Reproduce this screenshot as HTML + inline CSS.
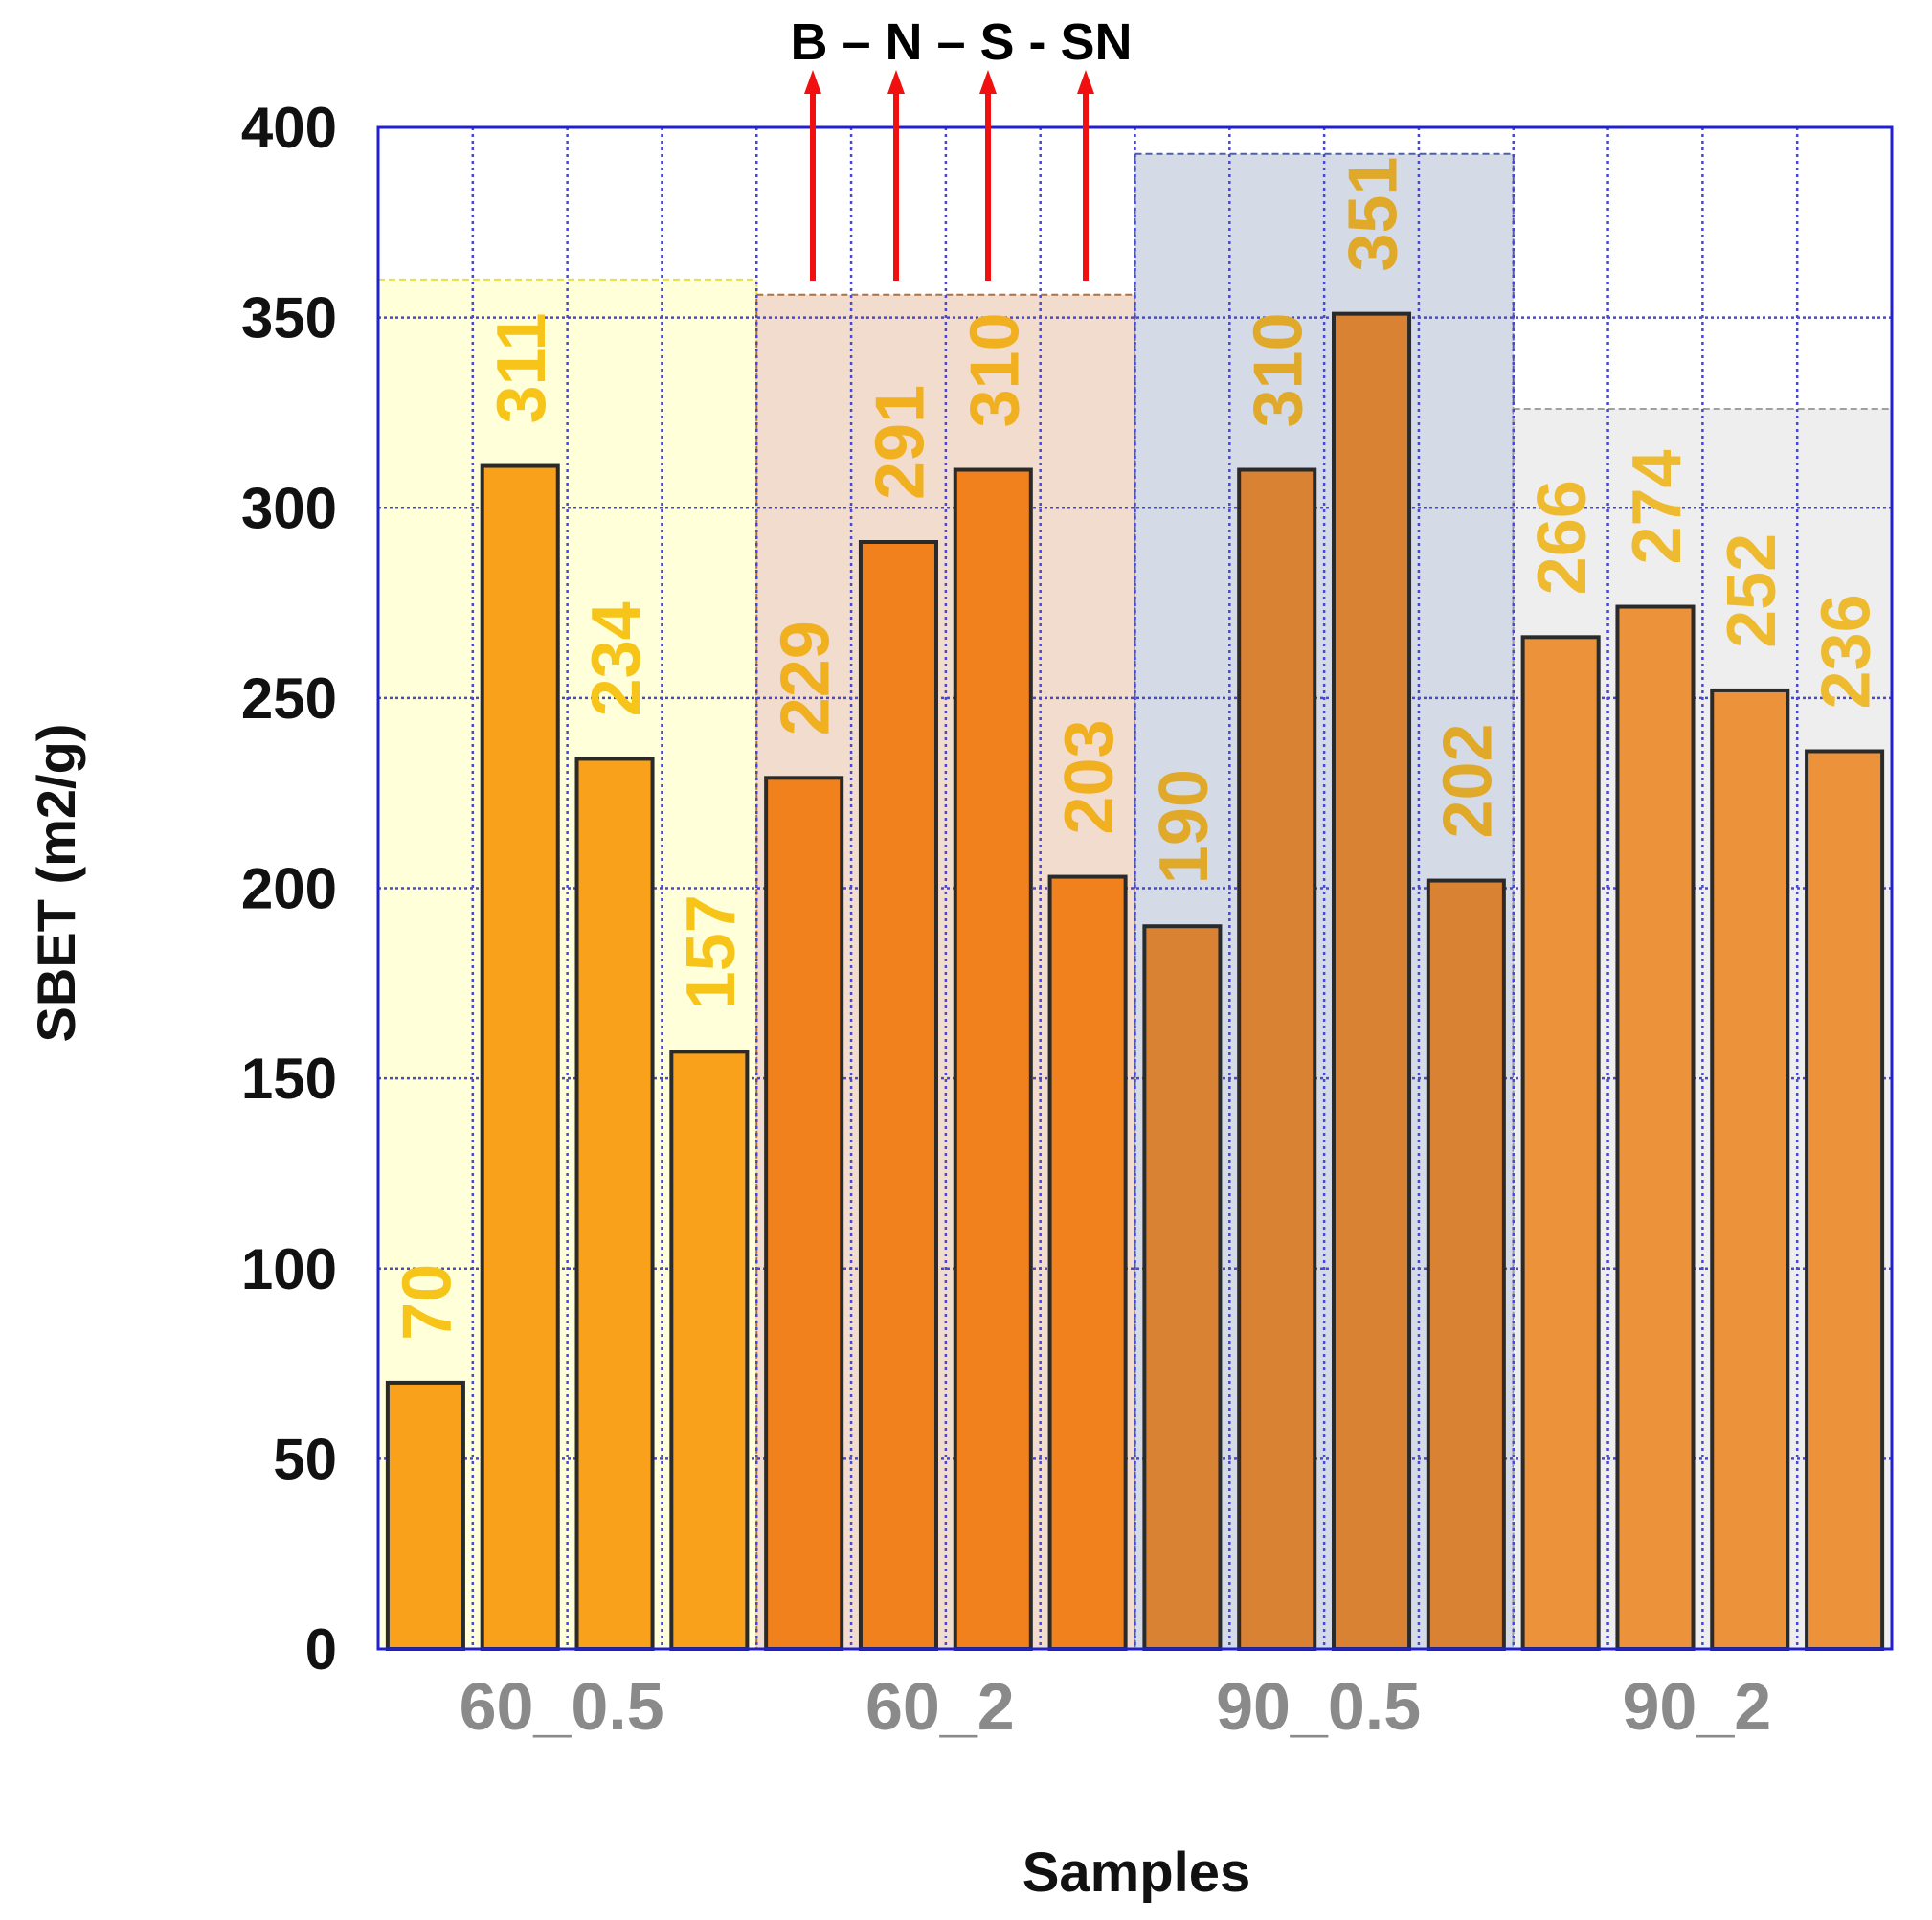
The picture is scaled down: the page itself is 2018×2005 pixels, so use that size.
<!DOCTYPE html>
<html><head><meta charset="utf-8"><style>
html,body{margin:0;padding:0;background:#fff;}
svg{display:block;font-family:"Liberation Sans",Arial,sans-serif;font-weight:bold;}
</style></head><body>
<svg id="chart" width="2018" height="2005" viewBox="0 0 2018 2005" xmlns="http://www.w3.org/2000/svg"></svg>
<script>
const groups = ["60_0.5","60_2","90_0.5","90_2"];
const values = [70,311,234,157, 229,291,310,203, 190,310,351,202, 266,274,252,236];
const groupHeights = [360,356,393,326];
const yTicks = [0,50,100,150,200,250,300,350,400];
const treatments = ["B","N","S","SN"];

const NS="http://www.w3.org/2000/svg";
const svg=document.getElementById('chart');
const L=395,R=1976,T=133,B=1722,YMAX=400;
const nBars=values.length, slot=(R-L)/nBars;
function y(v){return B-(v/YMAX)*(B-T);}
function x(i){return L+i*slot;}
function el(tag,attrs,parent){const e=document.createElementNS(NS,tag);for(const k in attrs)e.setAttribute(k,attrs[k]);(parent||svg).appendChild(e);return e;}

const bgFill=["#ffffd9","#f2dccd","#d4dbe6","#eeeeee"];
const bgStroke=["#e8e040","#b07040","#5060a0","#a0a0a0"];
const barFill=["#f9a11b","#f0811d","#d98233","#ec923a"];
const labelFill=["#f7c51a","#f0b020","#e0a92a","#eebb30"];
const per=nBars/groups.length;

groups.forEach((g,gi)=>{
  const r=el('rect',{x:x(gi*per),y:y(groupHeights[gi]),width:slot*per,height:B-y(groupHeights[gi]),fill:bgFill[gi],stroke:bgStroke[gi],'stroke-width':2,'stroke-dasharray':'7,4'});
  
  
});
for(let i=1;i<nBars;i++){
  const l=el('line',{x1:x(i),x2:x(i),y1:T,y2:B,stroke:'#4848d8','stroke-width':2.5,'stroke-dasharray':'3,4'});
  
  
}
yTicks.forEach(t=>{
  if(t>0&&t<YMAX){
    const l=el('line',{x1:L,x2:R,y1:y(t),y2:y(t),stroke:'#4848d8','stroke-width':2.5,'stroke-dasharray':'3,3'});
    
    
  }
  const tx=el('text',{x:352,y:y(t)+21,'text-anchor':'end','font-size':60,fill:'#111'});
  tx.textContent=t;
  
  
});
values.forEach((v,i)=>{
  const gi=Math.floor(i/per);
  const bw=slot*0.8;
  const bx=x(i)+(slot-bw)/2;
  const r=el('rect',{x:bx,y:y(v),width:bw,height:B-y(v),fill:barFill[gi],stroke:'#2a2a2a','stroke-width':4});
  
  
  const cx=x(i)+slot/2+26, cy=y(v)-44;
  const t=el('text',{x:cx,y:cy,'font-size':72,fill:labelFill[gi],transform:'rotate(-90 '+cx+' '+cy+')'});
  t.textContent=v;
  
  
});
const fr=el('rect',{x:L,y:T,width:R-L,height:B-T,fill:'none',stroke:'#2020d0','stroke-width':3});


groups.forEach((g,gi)=>{
  const t=el('text',{x:x(gi*per)+slot*2-6,y:1806,'text-anchor':'middle','font-size':70,fill:'#8a8a8a'});
  t.textContent=g;
  
  
});
const xt=el('text',{x:1187,y:1975,'text-anchor':'middle','font-size':58,fill:'#111'});
xt.textContent='Samples';


const yt=el('text',{x:78,y:922,'text-anchor':'middle','font-size':56,fill:'#111',transform:'rotate(-90 78 922)'});
yt.textContent='SBET (m2/g)';


const tt=el('text',{x:1004,y:62,'text-anchor':'middle','font-size':54,fill:'#000'});
tt.textContent='B – N – S - SN';


[849,936,1032,1134].forEach(ax=>{
  const g=el('g',{});
  
  
  el('line',{x1:ax,x2:ax,y1:293,y2:95,stroke:'#f01010','stroke-width':6},g);
  el('polygon',{points:(ax-9)+',98 '+(ax+9)+',98 '+ax+',73',fill:'#f01010'},g);
});
</script>
</body></html>
